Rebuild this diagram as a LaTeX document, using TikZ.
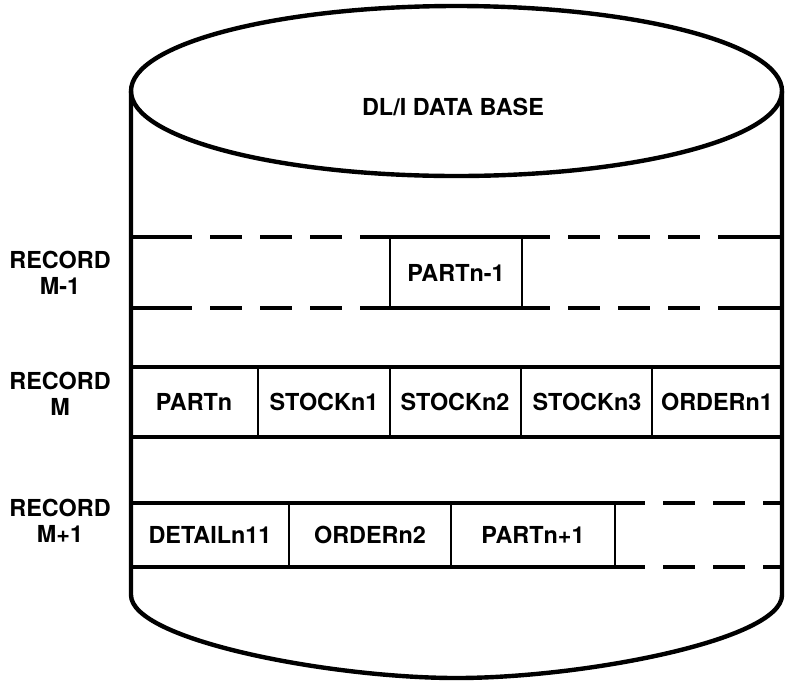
\documentclass[tikz,border=0pt]{standalone}
\usepackage{fontspec}
\setmainfont{TeX Gyre Heros}
\usetikzlibrary{calc}
\tikzset{
  wall/.style={line width=2.2pt,line join=round},
  band/.style={line width=1.8pt},
  gapdash/.style={band,dash pattern=on 16pt off 9pt,dash phase=16pt},
  divider/.style={line width=1.3pt},
  field/.style={font=\fontsize{11.7}{13}\selectfont\bfseries,inner sep=0pt},
  reclabel/.style={field,align=center}}

\begin{document}
\begin{tikzpicture}[x=0.5pt,y=-0.5pt]
  \def\xl{131}   % left wall
  \def\xr{782}   % right wall
  \def\xc{456.5} % axis of the cylinder
  \def\yt{91}    % centre of the top ellipse
  \def\yb{595}   % where the walls start to bend
  \useasboundingbox (0,0) rectangle (785,681);

  % CYLINDER
  \draw[wall] (\xc,\yt) ellipse [x radius=325.5, y radius=85]; % lid
  \draw[wall] (\xl,\yt) -- (\xl,\yb)
    .. controls (\xl,640) and (330,678) .. (\xc,678)
    .. controls (583,678) and (\xr,640) .. (\xr,\yb) -- (\xr,\yt); % body
  \node[field] (dbname) at (453,107) {DL/I DATA BASE};

  % RECORD M-1
  \foreach \y in {237,308}{
    \draw[band] (\xl,\y) -- (192,\y) (360,\y) -- (550,\y) (720,\y) -- (\xr,\y);
    \draw[gapdash] (192,\y) -- (360,\y) (550,\y) -- (720,\y);
  }
  \foreach \x in {390,522}
    \draw[divider] (\x,237) -- (\x,308);
  \node[field] (partprev) at (456,273) {PARTn-1};
  \node[reclabel] (recprev) at (60,273) {RECORD\\M-1};

  % RECORD M
  \foreach \y in {367,437}
    \draw[band] (\xl,\y) -- (\xr,\y);
  \foreach \x in {258,390,521,652}
    \draw[divider] (\x,367) -- (\x,437);
  \foreach \x/\n/\t in {194/part/PARTn,324/stocka/STOCKn1,455/stockb/STOCKn2,
                        587/stockc/STOCKn3,717/ordera/ORDERn1}
    \node[field] (\n) at (\x,402) {\t};
  \node[reclabel] (reccur) at (60,394) {RECORD\\M};

  % RECORD M+1
  \foreach \y in {503,567}{
    \draw[band] (\xl,\y) -- (645,\y) (765,\y) -- (\xr,\y);
    \draw[gapdash] (645,\y) -- (765,\y);
  }
  \foreach \x in {289,451,615}
    \draw[divider] (\x,503) -- (\x,567);
  \foreach \x/\n/\t in {210/detail/DETAILn11,370/orderb/ORDERn2,533/partnext/PARTn+1}
    \node[field] (\n) at (\x,535) {\t};
  \node[reclabel] (recnext) at (60,521) {RECORD\\M+1};

\end{tikzpicture}
\end{document}
